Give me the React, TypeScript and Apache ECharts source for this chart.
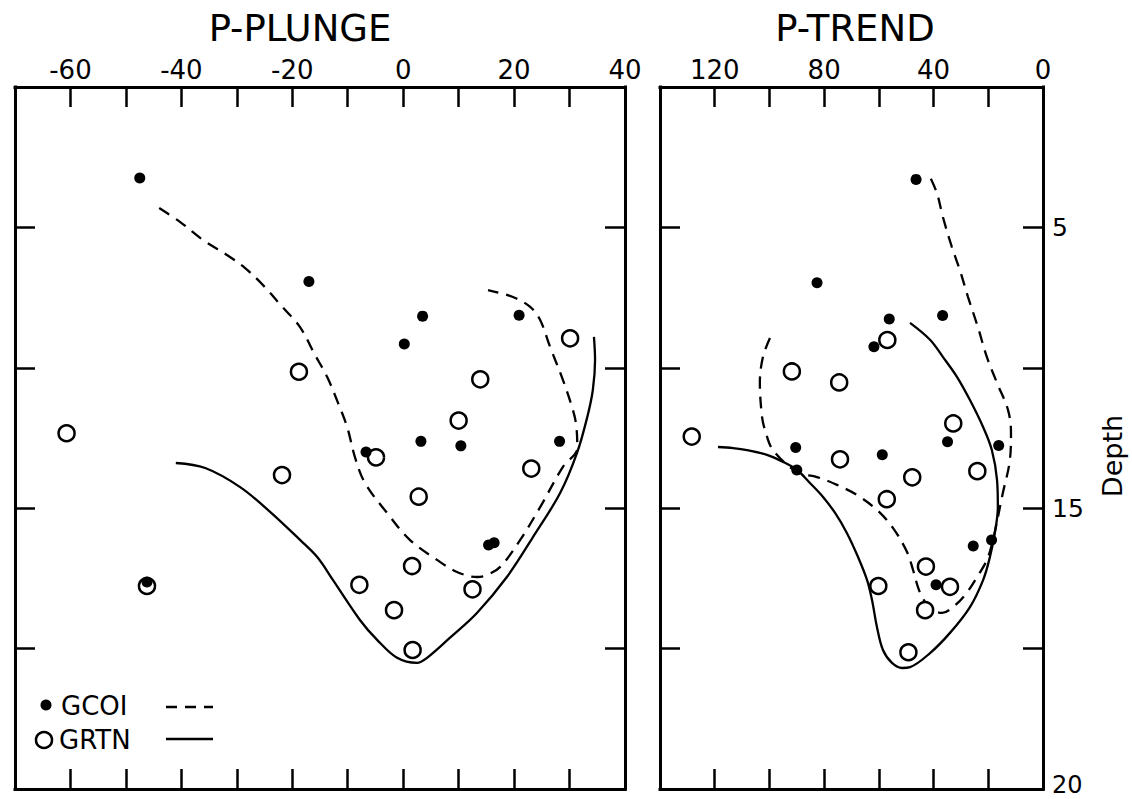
import { useEffect, useRef } from 'react';
import * as echarts from 'echarts';

// ---------- data (value along x, depth) ----------
// P-PLUNGE panel
const plungeGCOI: number[][] = [
  [-47.5, 3.24], [-17.0, 6.93], [3.5, 8.16], [0.2, 9.15], [20.9, 8.13], [3.2, 12.62],
  [10.4, 12.78], [28.2, 12.62], [-6.7, 13.0], [15.4, 16.31], [16.4, 16.23], [-46.2, 17.63],
];
const plungeGRTN: number[][] = [
  [-60.7, 12.33], [-18.8, 10.14], [-21.85, 13.82], [30.1, 8.95], [13.9, 10.41], [10.0, 11.88],
  [-4.9, 13.19], [23.1, 13.59], [2.8, 14.59], [1.6, 17.06], [-7.9, 17.73], [12.5, 17.89],
  [-1.65, 18.63], [1.7, 20.05], [-46.2, 17.77],
];
const plungeGCOICurve: number[][] = [
  [-44.0, 4.31], [-40.2, 4.81], [-36.1, 5.45], [-31.8, 5.98], [-28.5, 6.45], [-25.3, 7.05],
  [-21.8, 7.83], [-18.6, 8.55], [-15.9, 9.54], [-13.7, 10.33], [-11.75, 11.25], [-10.1, 12.11],
  [-8.7, 13.18], [-6.9, 14.1], [-2.9, 15.17], [1.2, 16.13], [6.1, 16.84], [9.7, 17.27],
  [13.3, 17.45], [15.1, 17.38], [17.5, 17.09], [21.1, 16.13], [24.7, 14.96], [28.8, 13.53],
  [31.4, 12.86], [31.2, 12.04], [30.6, 11.5], [28.8, 10.43], [26.5, 9.26], [24.7, 8.3],
  [22.9, 7.83], [19.8, 7.48], [15.3, 7.23],
];
const plungeGRTNCurve: number[][] = [
  [-41.0, 13.39], [-35.7, 13.57], [-29.4, 14.25], [-24.0, 15.13], [-18.6, 16.13], [-15.5, 16.74],
  [-12.65, 17.56], [-7.8, 18.98], [-4.7, 19.69], [-1.1, 20.33], [2.5, 20.51], [4.3, 20.33],
  [8.4, 19.62], [13.3, 18.73], [18.7, 17.45], [23.4, 16.03], [28.3, 14.46], [31.35, 13.03],
  [33.2, 11.75], [34.2, 10.79], [34.6, 9.72], [34.4, 8.9],
];

// P-TREND panel
const trendGCOI: number[][] = [
  [46.4, 3.29], [82.6, 6.97], [56.2, 8.26], [36.7, 8.14], [61.8, 9.25], [90.4, 12.84],
  [58.75, 13.1], [34.9, 12.63], [16.2, 12.77], [25.5, 16.35], [18.8, 16.13], [39.1, 17.73],
  [90.0, 13.64],
];
const trendGRTN: number[][] = [
  [56.9, 9.01], [91.8, 10.13], [74.5, 10.52], [32.8, 11.98], [128.4, 12.45], [74.2, 13.26],
  [24.0, 13.68], [47.8, 13.9], [57.1, 14.68], [42.8, 17.08], [34.0, 17.8], [60.2, 17.77],
  [43.1, 18.63], [49.2, 20.13],
];
const trendGCOICurve: number[][] = [
  [99.8, 8.94], [102.4, 9.62], [103.5, 10.54], [102.7, 11.75], [101.6, 12.22], [98.7, 12.93],
  [89.9, 13.71], [82.6, 13.89], [75.3, 14.17], [68.0, 14.53], [60.7, 15.06], [54.8, 15.71],
  [49.7, 16.56], [47.5, 17.2], [45.7, 17.81], [44.2, 18.16], [41.3, 18.55], [36.9, 18.73],
  [32.9, 18.52], [28.5, 18.09], [24.1, 17.45], [20.5, 16.84], [18.3, 16.13], [14.7, 14.47],
  [12.1, 13.28], [11.7, 12.32], [12.8, 11.5], [16.8, 10.54], [20.5, 9.62], [23.8, 8.55],
  [27.4, 7.48], [30.4, 6.52], [33.3, 5.7], [36.6, 4.63], [38.8, 3.77], [42.0, 3.06],
];
const trendGRTNCurve: number[][] = [
  [48.6, 8.4], [41.3, 9.0], [36.6, 9.61], [31.4, 10.33], [26.7, 11.15], [21.9, 12.11],
  [18.7, 12.93], [16.8, 14.0], [16.5, 14.96], [17.6, 15.88], [19.4, 16.74], [21.9, 17.56],
  [26.7, 18.52], [34.0, 19.44], [41.3, 20.16], [48.6, 20.66], [51.5, 20.69], [55.2, 20.51],
  [58.5, 20.05], [60.7, 19.23], [62.5, 18.27], [64.3, 17.56], [67.6, 16.74], [71.7, 15.88],
  [76.0, 15.17], [80.4, 14.6], [85.2, 14.1], [89.9, 13.64], [95.0, 13.35], [100.9, 13.1],
  [108.2, 12.93], [113.3, 12.86], [118.8, 12.82],
];

// axis labels
const panelTitles = ['P-PLUNGE', 'P-TREND'];
const depthLabels: Record<number, string> = { 5: '5', 15: '15', 25: '{e|20}' };
const legendNames = ['GCOI', 'GRTN'];

const FONT = 'DejaVu Sans';

export default function App() {
  const ref = useRef<HTMLDivElement>(null);

  useEffect(() => {
    const chart = echarts.init(ref.current!, null, { renderer: 'svg' });

    const frameLine = { show: true, onZero: false, lineStyle: { color: '#000', width: 3, cap: 'square' } };
    const ticks = { show: true, inside: true, length: 20, lineStyle: { color: '#000', width: 2.5 } };
    const noSplit = { show: false };
    const labelStyle = { color: '#000', fontSize: 26, fontFamily: FONT };

    const xAxisBase = (grid: number, pos: string, min: number, max: number, interval: number, inverse: boolean, labelMod: number | null) => ({
      gridIndex: grid,
      type: 'value',
      position: pos,
      min, max, interval, inverse,
      axisLine: frameLine,
      axisTick: ticks,
      splitLine: noSplit,
      axisLabel: labelMod === null
        ? { show: false }
        : {
            show: true, ...labelStyle, lineHeight: 22, margin: 6, showMinLabel: true, showMaxLabel: true,
            formatter: (v: number) => (Math.round(v) % labelMod === 0 ? String(v) : ''),
          },
    });

    const yAxisBase = (grid: number, pos: string, withLabels: boolean) => ({
      gridIndex: grid,
      type: 'value',
      position: pos,
      min: 0, max: 25, interval: 5, inverse: true,
      axisLine: frameLine,
      axisTick: ticks,
      splitLine: noSplit,
      axisLabel: withLabels
        ? {
            show: true, ...labelStyle, fontSize: 25, lineHeight: 18, margin: 9, showMinLabel: true, showMaxLabel: true,
            formatter: (v: number) => depthLabels[v] ?? '',
            rich: {
              e: { fontSize: 24, fontFamily: FONT, color: '#000', lineHeight: 16, padding: [0, 0, 8, 0] },
            },
          }
        : { show: false },
    });

    const lineSeries = (data: number[][], xi: number, yi: number, dashed: boolean) => ({
      type: 'line', data, xAxisIndex: xi, yAxisIndex: yi,
      smooth: 0.35, showSymbol: false, symbol: 'none', silent: true, z: 2,
      lineStyle: { color: '#000', width: 2.3, opacity: 1, type: dashed ? [12, 8] : 'solid' },
    });
    const openSeries = (name: string, data: number[][], xi: number, yi: number) => ({
      name, type: 'scatter', data, xAxisIndex: xi, yAxisIndex: yi, z: 3,
      symbol: 'circle', symbolSize: 16,
      itemStyle: { color: '#fff', borderColor: '#000', borderWidth: 2.5, opacity: 1 },
    });
    const dotSeries = (name: string, data: number[][], xi: number, yi: number) => ({
      name, type: 'scatter', data, xAxisIndex: xi, yAxisIndex: yi, z: 4,
      symbol: 'circle', symbolSize: 11,
      itemStyle: { color: '#000', opacity: 1 },
    });

    const textStyle = (size: number) => ({ fontSize: size, fontFamily: FONT, fontWeight: 'normal', color: '#000', lineHeight: 36 });

    chart.setOption({
      animation: false,
      backgroundColor: '#fff',
      title: [
        { text: panelTitles[0], left: 300, top: 10, padding: 0, textAlign: 'center', textStyle: textStyle(37) },
        { text: panelTitles[1], left: 855, top: 10, padding: 0, textAlign: 'center', textStyle: textStyle(37) },
      ],
      grid: [
        { left: 15, top: 87, width: 610, height: 702, containLabel: false, outerBoundsMode: 'none' },
        { left: 660, top: 87, width: 383, height: 702, containLabel: false, outerBoundsMode: 'none' },
      ],
      xAxis: [
        xAxisBase(0, 'top', -70, 40, 10, false, 20),
        xAxisBase(0, 'bottom', -70, 40, 10, false, null),
        xAxisBase(1, 'top', 0, 140, 20, true, 40),
        xAxisBase(1, 'bottom', 0, 140, 20, true, null),
      ],
      yAxis: [
        yAxisBase(0, 'left', false),
        yAxisBase(0, 'right', false),
        yAxisBase(1, 'left', false),
        yAxisBase(1, 'right', true),
      ],
      series: [
        lineSeries(plungeGCOICurve, 0, 0, true),
        lineSeries(plungeGRTNCurve, 0, 0, false),
        openSeries(legendNames[1], plungeGRTN, 0, 0),
        dotSeries(legendNames[0], plungeGCOI, 0, 0),
        lineSeries(trendGCOICurve, 2, 2, true),
        lineSeries(trendGRTNCurve, 2, 2, false),
        openSeries(legendNames[1], trendGRTN, 2, 2),
        dotSeries(legendNames[0], trendGCOI, 2, 2),
      ],
      graphic: [
        {
          type: 'text', x: 1112, y: 456, rotation: Math.PI / 2,
          style: {
            text: 'Depth', fontSize: 27, fontFamily: FONT, fill: '#000',
            textAlign: 'center', align: 'center', textVerticalAlign: 'middle', verticalAlign: 'middle',
          },
        },
        { type: 'circle', shape: { cx: 46, cy: 705, r: 5.5 }, style: { fill: '#000' } },
        {
          type: 'text', x: 61, y: 706,
          style: { text: legendNames[0], fontSize: 26, fontFamily: FONT, fill: '#000', textVerticalAlign: 'middle', verticalAlign: 'middle' },
        },
        { type: 'line', shape: { x1: 166, y1: 707, x2: 213, y2: 707 }, style: { stroke: '#000', lineWidth: 2.3, lineDash: [11, 8] } },
        { type: 'circle', shape: { cx: 44, cy: 740, r: 8 }, style: { fill: '#fff', stroke: '#000', lineWidth: 2.5 } },
        {
          type: 'text', x: 59, y: 740,
          style: { text: legendNames[1], fontSize: 26, fontFamily: FONT, fill: '#000', textVerticalAlign: 'middle', verticalAlign: 'middle' },
        },
        { type: 'line', shape: { x1: 166, y1: 739, x2: 213, y2: 739 }, style: { stroke: '#000', lineWidth: 2.3 } },
      ],
    });

    return () => chart.dispose();
  }, []);

  return (
    <div
      ref={ref}
      style={{ position: 'fixed', left: 0, top: 0, width: 1132, height: 799, background: '#fff' }}
    />
  );
}
